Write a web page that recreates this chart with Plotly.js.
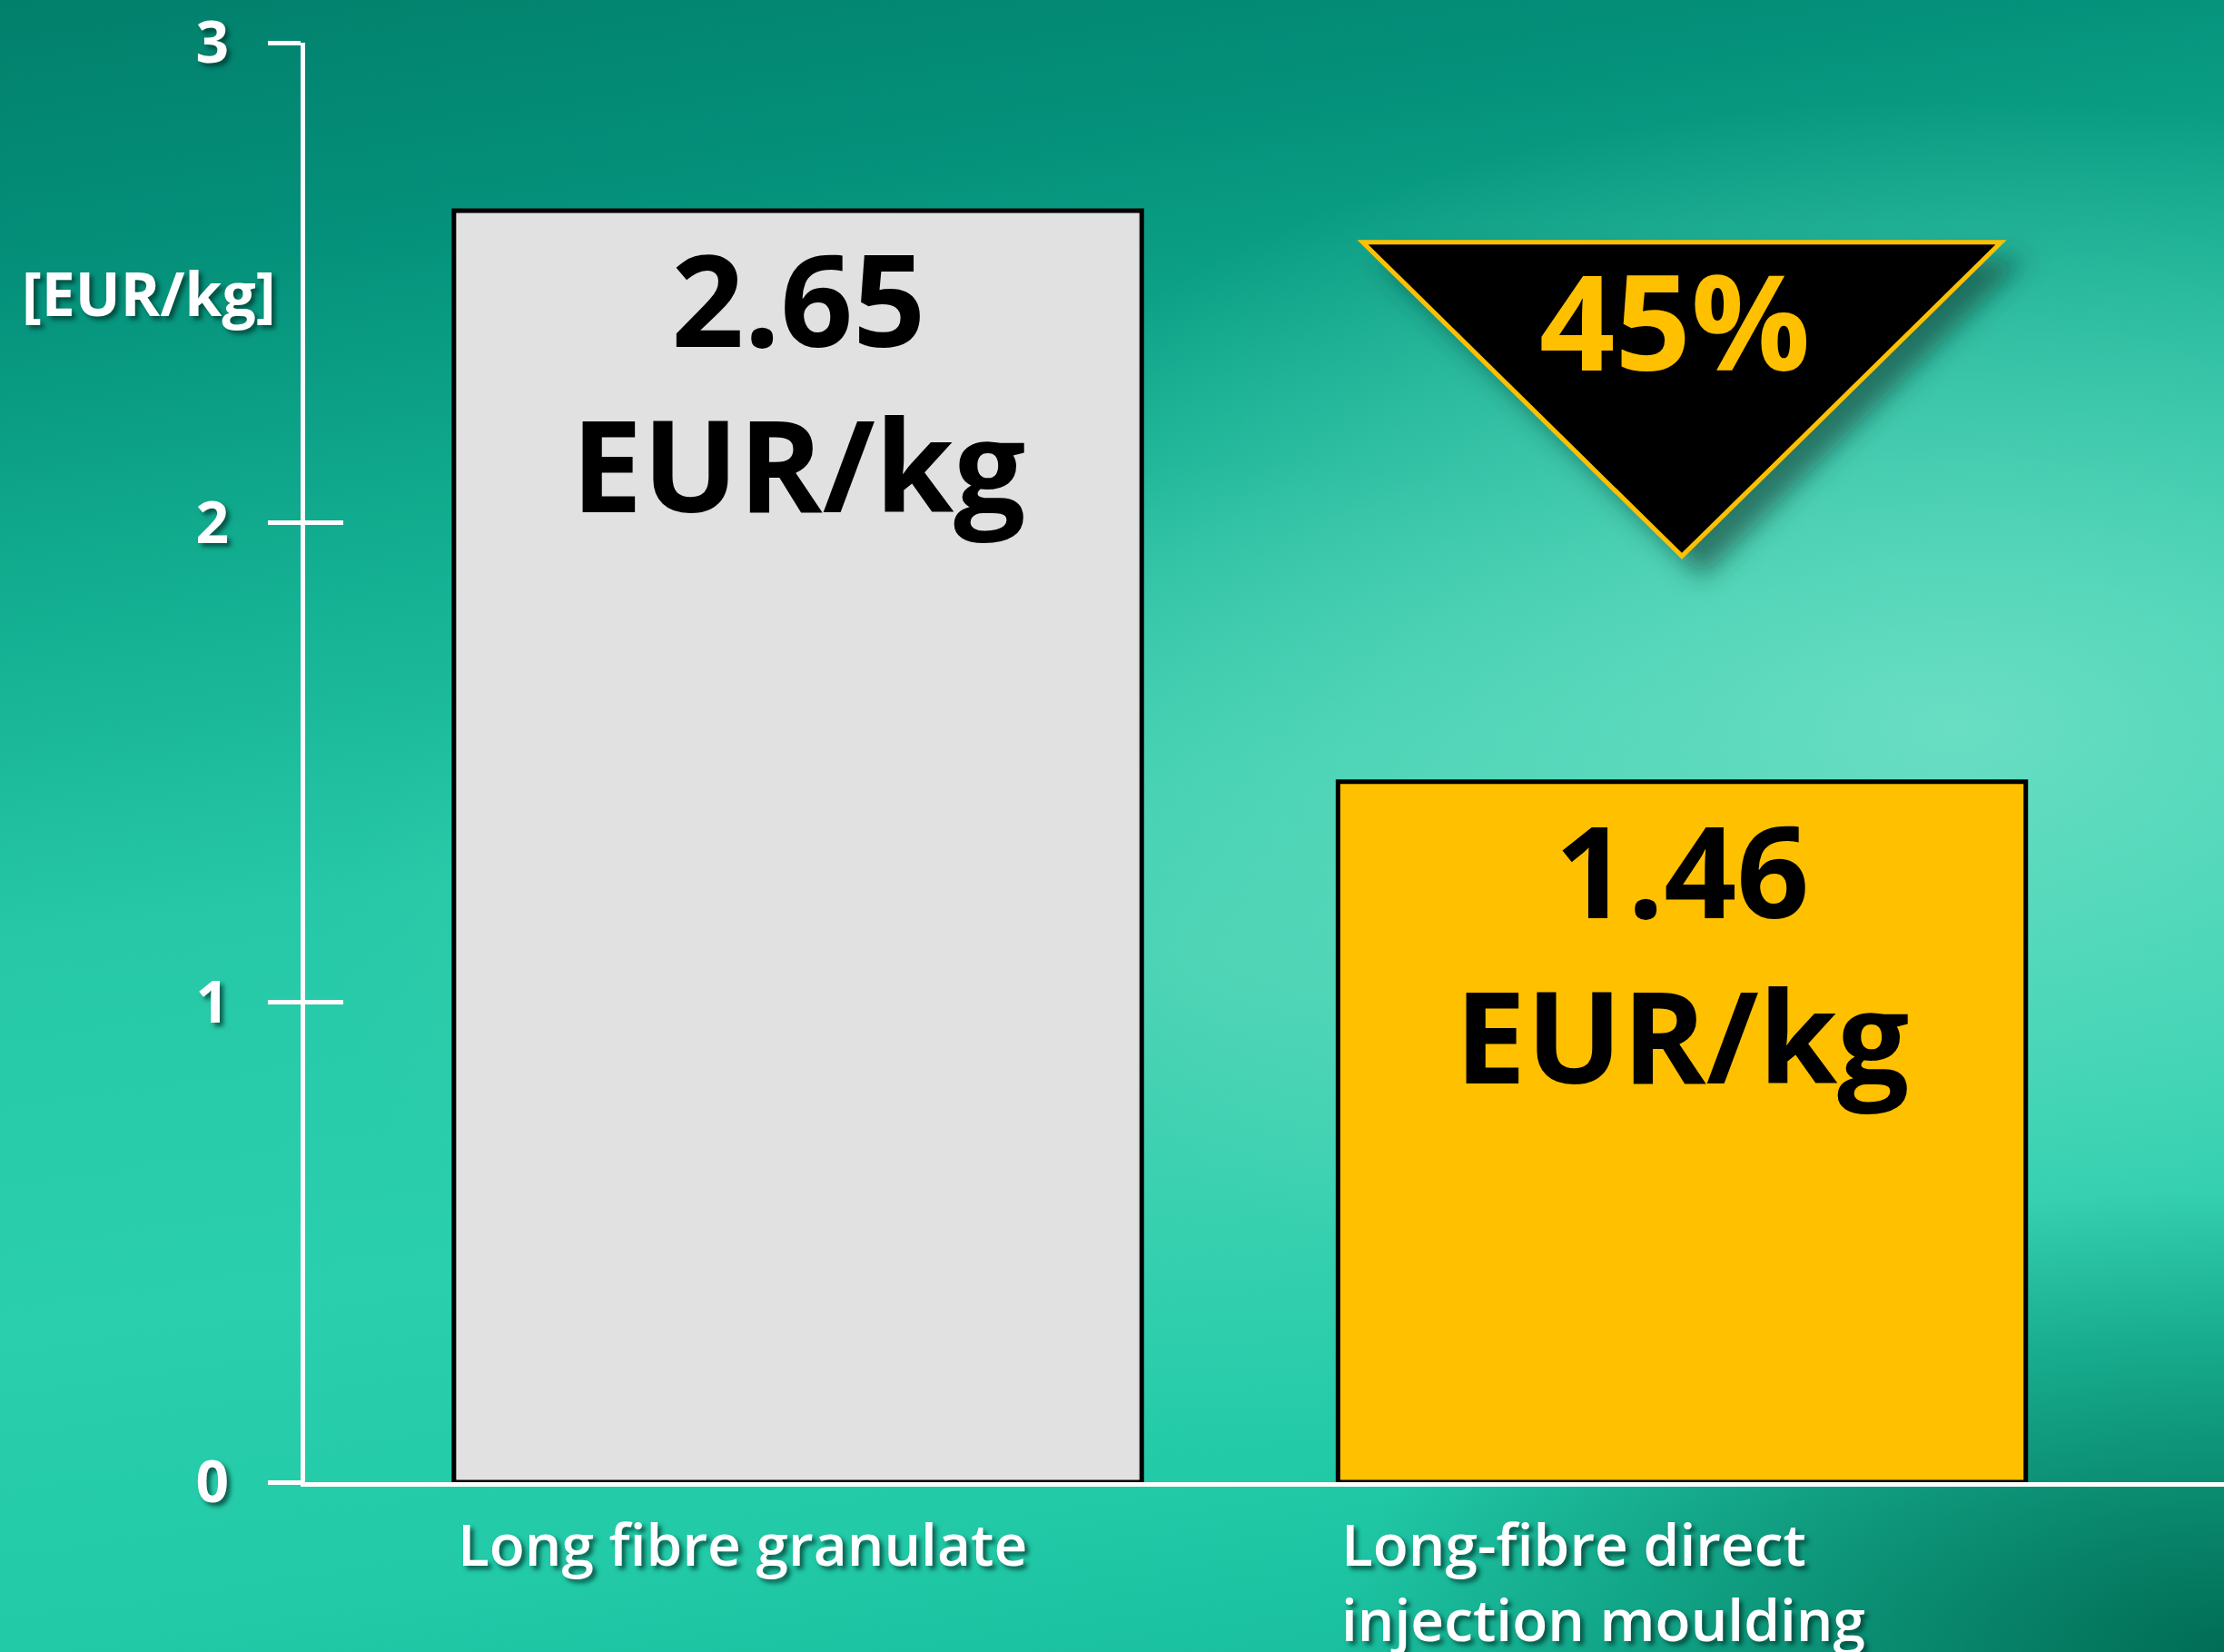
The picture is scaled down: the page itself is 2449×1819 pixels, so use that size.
<!DOCTYPE html>
<html>
<head>
<meta charset="utf-8">
<script src="https://cdn.plot.ly/plotly-3.0.1.min.js"></script>
<style>
  html, body { margin: 0; padding: 0; }
  body {
    width: 2449px; height: 1819px; overflow: hidden;
    background:
      radial-gradient(ellipse 40% 28% at 100% 100%, rgba(0,105,82,0.95), rgba(0,105,82,0) 100%),
      radial-gradient(ellipse 50% 38% at 88% 44%, rgba(112,224,198,0.9), rgba(112,224,198,0) 100%),
      radial-gradient(ellipse 40% 30% at 55% 58%, rgba(85,212,182,0.7), rgba(85,212,182,0) 100%),
      linear-gradient(172deg, #02806c 0%, #04907a 14%, #12ad90 30%, #26c8a7 48%, #2acfad 68%, #22caa8 84%, #14b999 100%);
  }
  #chart { width: 2449px; height: 1819px; }
</style>
</head>
<body>
<div id="chart"></div>
<script>
// ---- data ----
const categories = ["Long fibre granulate", "Long-fibre direct<br>injection moulding"];
const costs = [2.65, 1.46];
const unit = "EUR/kg";
const reductionLabel = "45%";
const yTicks = [0, 1, 2, 3];
const yTickText = ["0", "1", "2", "3"];

// ---- styling ----
const barColors = ["#E1E1E1", "#FFC000"];
const barWidth = 0.778;
const FONT = "'Open Sans', 'Noto Sans', 'DejaVu Sans', sans-serif";
const whiteShadow = "4px 4px 5px rgba(0,55,45,0.75)";

const xIdx = categories.map((_, i) => i);

const traces = [
  {
    type: "bar",
    x: xIdx,
    y: costs,
    width: barWidth,
    marker: { color: barColors, line: { color: "#000000", width: 5 } },
    hoverinfo: "skip",
    showlegend: false
  },
  {
    type: "scatter",
    x: [0], y: [0], yaxis: "y2",
    mode: "none", hoverinfo: "skip", showlegend: false
  }
];

const annotations = [];
// value labels inside bars
costs.forEach((v, i) => {
  annotations.push({
    x: i, y: v, xref: "x", yref: "y",
    text: v.toFixed(2) + "<br>" + unit,
    showarrow: false, xanchor: "center", yanchor: "top", yshift: 2,
    font: { family: FONT, size: 140, color: "#000000", weight: 700 }
  });
});
// category labels, left-aligned with the bars
categories.forEach((c, i) => {
  annotations.push({
    x: i - barWidth / 2, y: 0, xref: "x", yref: "y",
    text: c, align: "left",
    showarrow: false, xanchor: "left", yanchor: "top", yshift: -22, xshift: 2,
    font: { family: FONT, size: 64, color: "#ffffff", weight: 600, shadow: whiteShadow }
  });
});
// unit label on the y axis
annotations.push({
  x: 0, xref: "paper", y: 2.48, yref: "y",
  text: "[" + unit + "]", showarrow: false, xanchor: "right", yanchor: "middle", xshift: -30,
  font: { family: FONT, size: 66, color: "#ffffff", weight: 700, shadow: whiteShadow }
});
// reduction label in triangle
const triCenter = 1, triHalf = 0.361, triTop = 2.584, triBottom = 1.93;
annotations.push({
  x: triCenter, y: 2.615, xref: "x", yref: "y",
  text: reductionLabel, showarrow: false, xanchor: "center", yanchor: "top", xshift: -8,
  font: { family: FONT, size: 146, color: "#FFC000", weight: 700 }
});

const shapes = [
  {
    type: "path", xref: "x", yref: "y", layer: "above",
    path: `M ${triCenter - triHalf} ${triTop} L ${triCenter + triHalf} ${triTop} L ${triCenter} ${triBottom} Z`,
    fillcolor: "#000000",
    line: { color: "#FFC000", width: 5 }
  }
];

const layout = {
  width: 2449, height: 1819,
  paper_bgcolor: "rgba(0,0,0,0)",
  plot_bgcolor: "rgba(0,0,0,0)",
  margin: { l: 336, r: 0, t: 47, b: 187, pad: 0 },
  showlegend: false,
  xaxis: {
    range: [-0.5573, 1.6132], showgrid: false, zeroline: false,
    showticklabels: false, ticks: "",
    showline: true, linecolor: "#ffffff", linewidth: 5, fixedrange: true
  },
  yaxis: {
    range: [0, 3], tickvals: yTicks, ticktext: yTickText,
    showgrid: false, zeroline: false,
    showline: true, linecolor: "#ffffff", linewidth: 5,
    ticks: "outside", ticklen: 36, tickwidth: 5, tickcolor: "#ffffff",
    ticklabelstandoff: 30,
    tickfont: { family: FONT, size: 64, color: "#ffffff", weight: 700, shadow: whiteShadow },
    fixedrange: true
  },
  yaxis2: {
    overlaying: "y", side: "left", range: [0, 3], tickvals: yTicks,
    showticklabels: false, showgrid: false, zeroline: false, showline: false,
    ticks: "inside", ticklen: 42, tickwidth: 5, tickcolor: "#ffffff", fixedrange: true
  },
  annotations: annotations,
  shapes: shapes
};

Plotly.newPlot("chart", traces, layout, { displayModeBar: false, staticPlot: true }).then(() => {
  const svg = document.querySelector("#chart .main-svg");
  const defs = svg.querySelector("defs");
  const ns = "http://www.w3.org/2000/svg";
  const f = document.createElementNS(ns, "filter");
  f.setAttribute("id", "triShadow");
  f.setAttribute("x", "-30%"); f.setAttribute("y", "-30%");
  f.setAttribute("width", "170%"); f.setAttribute("height", "170%");
  const ds = document.createElementNS(ns, "feDropShadow");
  ds.setAttribute("dx", "22"); ds.setAttribute("dy", "20");
  ds.setAttribute("stdDeviation", "14");
  ds.setAttribute("flood-color", "#0b3a30"); ds.setAttribute("flood-opacity", "0.6");
  f.appendChild(ds);
  defs.appendChild(f);
  document.querySelectorAll("#chart .shapelayer path").forEach(p => p.setAttribute("filter", "url(#triShadow)"));
});
</script>
</body>
</html>
